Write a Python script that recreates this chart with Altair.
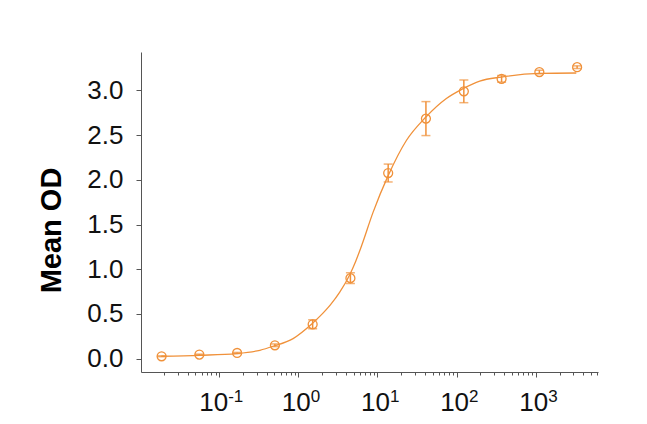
import altair as alt
import pandas as pd

# Measured points (concentration, mean OD, SD)
conc = [0.01875, 0.05625, 0.1688, 0.5063, 1.519, 4.557, 13.67, 41.0, 123.5, 370.4, 1111, 3333]
mean_od = [0.026, 0.045, 0.063, 0.149, 0.384, 0.90, 2.076, 2.685, 2.99, 3.13, 3.206, 3.26]
sd = [0.005, 0.005, 0.006, 0.015, 0.05, 0.06, 0.10, 0.19, 0.127, 0.037, 0.02, 0.015]

# Fitted curve
fit_conc = [0.01875, 0.057, 0.166, 0.327, 0.481, 0.860, 1.468, 1.868, 2.573, 3.342, 4.470,
            5.321, 6.337, 8.80, 13.61, 23.2, 40.7, 74.3, 120.5, 196, 368, 1119, 3258]
fit_od = [0.026, 0.037, 0.056, 0.093, 0.138, 0.224, 0.384, 0.472, 0.607, 0.744, 0.939,
          1.090, 1.268, 1.636, 2.044, 2.44, 2.70, 2.91, 3.02, 3.105, 3.15, 3.19, 3.195]

x_major = [0.1, 1, 10, 100, 1000]
x_exponents = ["-1", "0", "1", "2", "3"]
x_minor = [m * 10.0 ** e for e in range(-2, 4) for m in range(2, 10) if m * 10.0 ** e < 6100]
y_ticks = [0.0, 0.5, 1.0, 1.5, 2.0, 2.5, 3.0]

COLOR = "#F0913A"
FONT = "Liberation Sans"

pts = pd.DataFrame({"conc": conc, "od": mean_od, "lo": [m - s for m, s in zip(mean_od, sd)],
                    "hi": [m + s for m, s in zip(mean_od, sd)]})
fit = pd.DataFrame({"conc": fit_conc, "od": fit_od})

xscale = alt.Scale(type="log", domain=[0.0103, 6120], nice=False)
yscale = alt.Scale(domain=[-0.15, 3.43], nice=False, zero=False)

major_arr = "[" + ",".join(str(v) for v in x_major) + "]"
exp_arr = "[" + ",".join("'" + l + "'" for l in x_exponents) + "]"
is_major = f"indexof({major_arr}, datum.value) >= 0"
is_neg = "datum.value < 0.5"

# main axis: domain, major+minor ticks, "10" labels
xaxis = alt.Axis(
    values=x_major + x_minor,
    labelExpr=f"{is_major} ? '10' : ''",
    tickSize={"condition": {"test": is_major, "value": 5}, "value": 3},
    labelAlign="right", labelBaseline="alphabetic",
    labelOffset={"condition": {"test": is_neg, "value": 8.5}, "value": 12},
    labelOverlap=False, labelFlush=False, labelFont=FONT, labelFontSize=26,
    labelColor="#111", labelPadding=33, grid=False, title=None,
    domainColor="#555", tickColor="#555", orient="bottom",
)
# exponent axis: superscripts only
xaxis_exp = alt.Axis(
    values=x_major,
    labelExpr=f"{exp_arr}[indexof({major_arr}, datum.value)]",
    ticks=False, domain=False,
    labelAlign="left", labelBaseline="alphabetic",
    labelOffset={"condition": {"test": is_neg, "value": 8.5}, "value": 12},
    labelOverlap=False, labelFlush=False, labelFont=FONT, labelFontSize=17,
    labelColor="#111", labelPadding=29, grid=False, title=None, orient="bottom",
)
yaxis = alt.Axis(
    values=y_ticks, format=".1f", tickSize=5, labelFont=FONT, labelFontSize=26,
    labelColor="#111", labelPadding=13, grid=False, title="Mean OD",
    titleFont=FONT, titleFontSize=29, titleFontWeight="bold", titleColor="#000",
    titleX=-90, titleY=178, titleAlign="center", titleBaseline="middle", titleAngle=270,
    domainColor="#555", tickColor="#555",
)

line = alt.Chart(fit).mark_line(color=COLOR, strokeWidth=1.3, interpolate="monotone").encode(
    x=alt.X("conc:Q", scale=xscale, axis=xaxis),
    y=alt.Y("od:Q", scale=yscale, axis=yaxis),
)
bars = alt.Chart(pts).mark_rule(color=COLOR, strokeWidth=1.5).encode(
    x=alt.X("conc:Q", axis=None), y="lo:Q", y2="hi:Q"
)
cap_lo = alt.Chart(pts).mark_tick(color=COLOR, orient="horizontal", size=9, thickness=1.5).encode(
    x=alt.X("conc:Q", axis=None), y="lo:Q"
)
cap_hi = alt.Chart(pts).mark_tick(color=COLOR, orient="horizontal", size=9, thickness=1.5).encode(
    x=alt.X("conc:Q", axis=None), y="hi:Q"
)
dots = alt.Chart(pts).mark_point(shape="circle", filled=False, size=80, strokeWidth=1.3,
                                  color=COLOR, opacity=1).encode(
    x=alt.X("conc:Q", axis=xaxis_exp), y="od:Q"
)

chart = alt.layer(line, bars, cap_lo, cap_hi, dots).resolve_axis(x="independent").properties(
    width=457, height=320,
    autosize=alt.AutoSizeParams(type="none"),
    padding={"left": 133, "top": 44, "right": 41, "bottom": 44},
    background="white",
).configure_view(stroke=None)

chart.save("out.html", embed_options={"renderer": "svg", "actions": False})
